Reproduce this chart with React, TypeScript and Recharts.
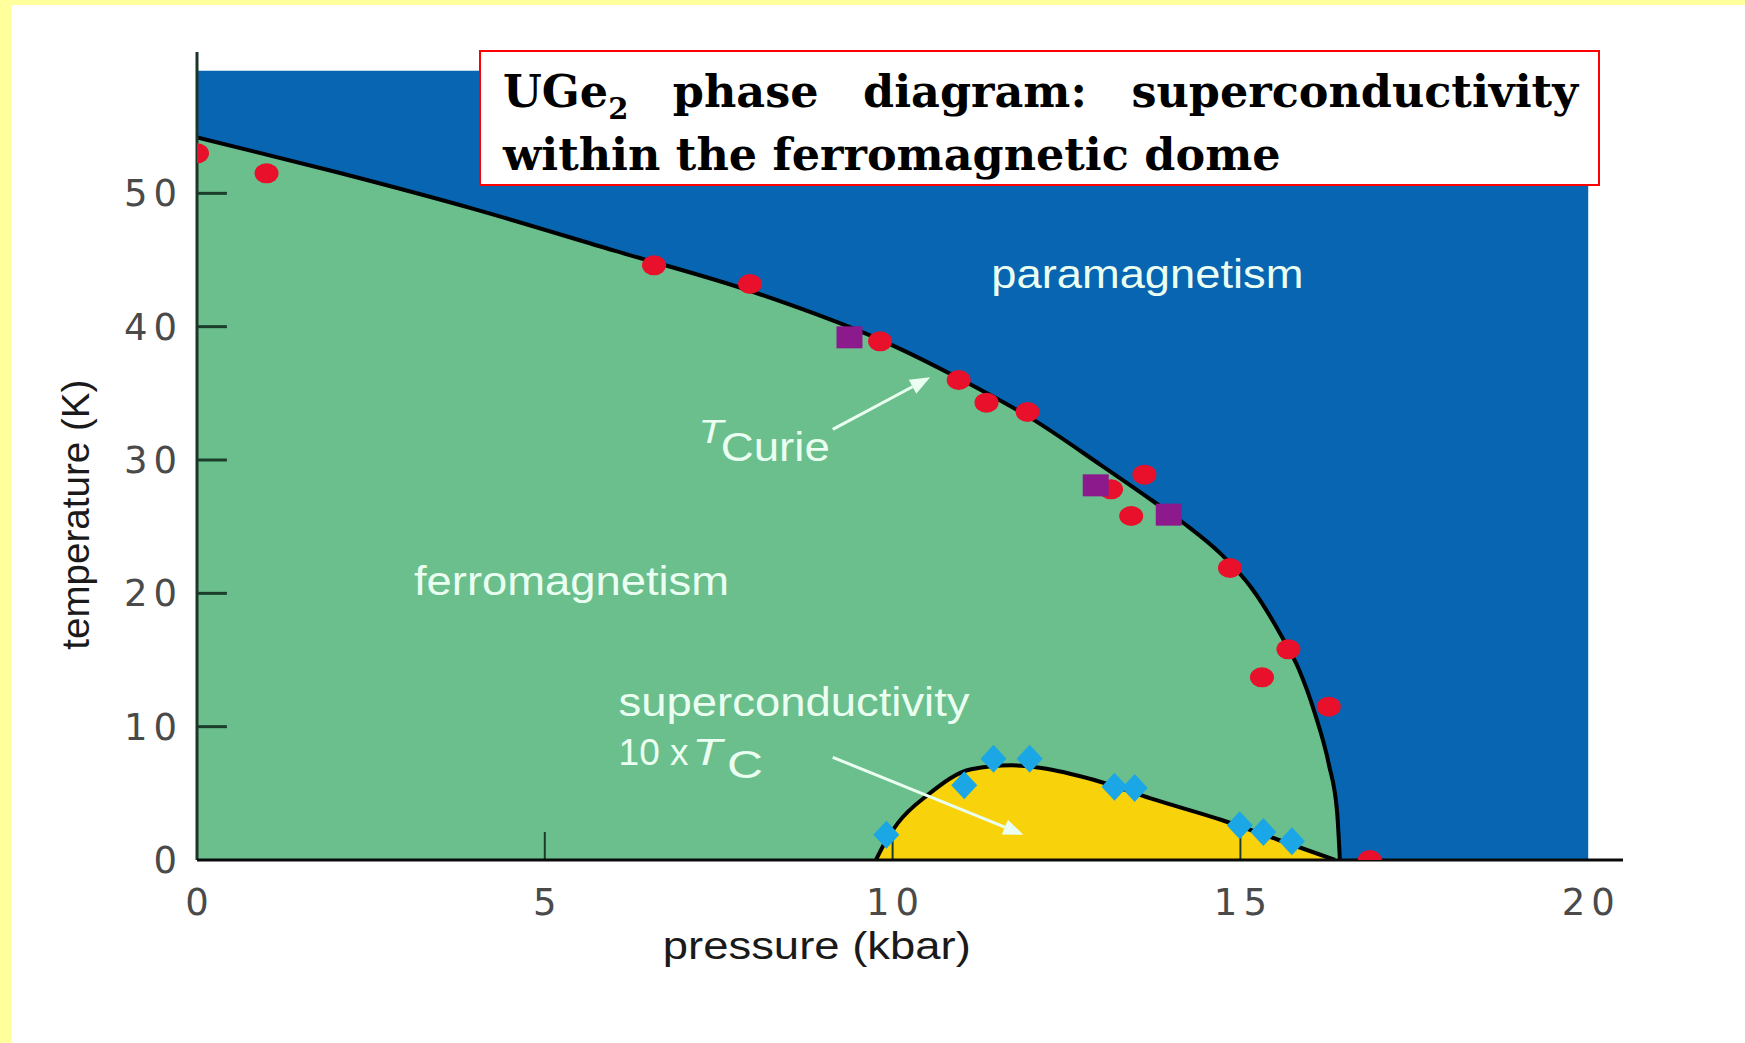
import React from "react";
import {
  ComposedChart,
  Area,
  Scatter,
  XAxis,
  YAxis,
  ReferenceLine,
  ReferenceDot,
} from "recharts";

// Curie line (ferromagnetic boundary), pressure in kbar, temperature in K
const curieP = [0, 2, 4, 6, 8, 10, 11, 12, 13, 13.72, 14.2, 14.73, 15.16, 15.59, 15.84, 16.07, 16.27, 16.39, 16.43];
const curieT = [54.2, 51.6, 48.8, 45.7, 42.6, 38.6, 36.0, 33.1, 29.6, 27.0, 25.2, 22.9, 20.4, 16.8, 14.3, 11.0, 7.2, 3.6, 0];

// superconducting dome (10 x Tc)
const domeP = [9.76, 9.9, 10.08, 10.51, 11.13, 11.71, 12.14, 12.9, 13.72, 14.73, 15.55, 16.36];
const domeT = [0, 1.4, 2.8, 4.9, 6.8, 7.1, 6.9, 6.0, 4.6, 3.0, 1.5, 0];

// measured points
const redP = [0, 1.0, 6.57, 7.95, 9.82, 10.95, 11.35, 11.94, 13.14, 13.43, 13.62, 14.85, 15.69, 15.31, 16.27, 16.86];
const redT = [53.0, 51.5, 44.6, 43.2, 38.9, 36.0, 34.3, 33.6, 27.8, 25.8, 28.9, 21.9, 15.8, 13.7, 11.5, 0];
const squareP = [9.38, 12.92, 13.97];
const squareT = [39.2, 28.1, 25.9];
const diamondP = [9.91, 11.03, 11.45, 11.97, 13.19, 13.48, 14.99, 15.33, 15.74];
const diamondT = [1.9, 5.6, 7.6, 7.6, 5.5, 5.4, 2.6, 2.1, 1.4];

// paramagnetic region extent
const paraP = [0, 20];
const paraTop = 59.2;

const xTicks = [0, 5, 10, 15, 20];
const yTicks = [0, 10, 20, 30, 40, 50];

const zip = (ps: number[], ts: number[]) => ps.map((p, i) => ({ p, T: ts[i] }));

const curieData = zip(curieP, curieT);
const domeData = zip(domeP, domeT);
const redData = zip(redP, redT);
const squareData = zip(squareP, squareT);
const diamondData = zip(diamondP, diamondT);
const paraData = paraP.map((p) => ({ p, T: paraTop }));

const BLUE = "#0765b1";
const GREEN = "#6abf8c";
const YELLOW = "#f8d20b";
const TXT = "#eafff1";
const SANS = "Liberation Sans, Arial, sans-serif";

const RedDot = (props: any) => (
  <ellipse cx={props.cx} cy={props.cy} rx={12} ry={10} fill="#e8102b" />
);
const PurpleSquare = (props: any) => (
  <rect x={props.cx - 13} y={props.cy - 11} width={26} height={22} fill="#8c1a8c" />
);
const BlueDiamond = (props: any) => (
  <polygon
    points={`${props.cx},${props.cy - 14} ${props.cx + 13},${props.cy} ${props.cx},${props.cy + 14} ${props.cx - 13},${props.cy}`}
    fill="#1ba6e6"
  />
);

const arrowShape = (props: any) => {
  const { x1, y1, x2, y2 } = props;
  const a = Math.atan2(y2 - y1, x2 - x1);
  const L = 20;
  const W = 8;
  const bx = x2 - L * Math.cos(a);
  const by = y2 - L * Math.sin(a);
  const px = -Math.sin(a) * W;
  const py = Math.cos(a) * W;
  return (
    <g>
      <line x1={x1} y1={y1} x2={bx} y2={by} stroke={TXT} strokeWidth={3} />
      <polygon points={`${x2},${y2} ${bx + px},${by + py} ${bx - px},${by - py}`} fill={TXT} />
    </g>
  );
};

const textAt = (content: React.ReactNode, len: number, size: number, extra: any = {}) =>
  (props: any) => (
    <text
      x={props.cx}
      y={props.cy}
      fill={TXT}
      fontFamily={SANS}
      fontSize={size}
      textLength={len}
      lengthAdjust="spacingAndGlyphs"
      {...extra}
    >
      {content}
    </text>
  );

const XTick = (props: any) => (
  <text
    x={props.x + 3}
    y={props.y + 53}
    textAnchor="middle"
    fontFamily="DejaVu Sans, sans-serif"
    fontSize={37}
    letterSpacing={6}
    fill="#4a4a4a"
  >
    {props.payload.value}
  </text>
);

const YTick = (props: any) => (
  <text
    x={props.x - 12}
    y={props.y + 13}
    textAnchor="end"
    fontFamily="DejaVu Sans, sans-serif"
    fontSize={37}
    letterSpacing={6}
    fill="#4a4a4a"
  >
    {props.payload.value}
  </text>
);

export default function App() {
  return (
    <div style={{ position: "absolute", left: 0, top: 0, width: 1745, height: 1043, background: "#fff", overflow: "hidden" }}>
      <ComposedChart
        width={1745}
        height={1043}
        margin={{ top: 52, right: 122, bottom: 123, left: 137 }}
      >
        <XAxis
          type="number"
          dataKey="p"
          domain={[0, 20.5]}
          ticks={xTicks}
          height={60}
          axisLine={false}
          tickLine={false}
          tickSize={0}
          tick={<XTick />}
          allowDataOverflow
        />
        <YAxis
          type="number"
          dataKey="T"
          domain={[0, 60.6]}
          ticks={yTicks}
          width={60}
          axisLine={false}
          tickLine={false}
          tickSize={0}
          tick={<YTick />}
          allowDataOverflow
        />
        <Area data={paraData} dataKey="T" type="linear" fill={BLUE} fillOpacity={1} stroke="none" isAnimationActive={false} />
        <Area data={curieData} dataKey="T" type="monotone" fill={GREEN} fillOpacity={1} stroke="#000" strokeWidth={4} isAnimationActive={false} />
        <Area data={domeData} dataKey="T" type="monotone" fill={YELLOW} fillOpacity={1} stroke="#000" strokeWidth={4} isAnimationActive={false} />

        {yTicks.filter((t) => t > 0).map((t) => (
          <ReferenceLine key={"yt" + t} segment={[{ x: 0, y: t }, { x: 0.43, y: t }]} stroke="#1d3d2b" strokeWidth={3} />
        ))}
        {xTicks.filter((t) => t > 0 && t < 20).map((t) => (
          <ReferenceLine key={"xt" + t} segment={[{ x: t, y: 0 }, { x: t, y: 2.1 }]} stroke="#1d3d2b" strokeWidth={2} />
        ))}
        <ReferenceLine segment={[{ x: 0, y: 0 }, { x: 0, y: 60.6 }]} stroke="#1d3528" strokeWidth={3} ifOverflow="visible" />
        <ReferenceLine segment={[{ x: 0, y: 0 }, { x: 20.5, y: 0 }]} stroke="#0a0a0a" strokeWidth={3} ifOverflow="visible" />

        <ReferenceLine segment={[{ x: 9.14, y: 32.3 }, { x: 10.54, y: 36.2 }]} shape={arrowShape} />
        <ReferenceLine segment={[{ x: 9.14, y: 7.7 }, { x: 11.88, y: 1.9 }]} shape={arrowShape} />

        <ReferenceDot x={11.42} y={42.9} r={0} shape={textAt("paramagnetism", 312, 40)} />
        <ReferenceDot x={3.12} y={19.9} r={0} shape={textAt("ferromagnetism", 315, 40)} />
        <ReferenceDot x={6.06} y={10.8} r={0} shape={textAt("superconductivity", 351, 40)} />
        <ReferenceDot x={6.06} y={7.13} r={0} shape={textAt("10 x", 70, 37)} />
        <ReferenceDot x={7.12} y={7.13} r={0} shape={textAt("T", 30, 37, { fontStyle: "italic" })} />
        <ReferenceDot x={7.62} y={6.16} r={0} shape={textAt("C", 36, 39)} />
        <ReferenceDot x={7.21} y={31.3} r={0} shape={textAt("T", 25, 34, { fontStyle: "italic" })} />
        <ReferenceDot x={7.53} y={29.9} r={0} shape={textAt("Curie", 109, 40)} />

        <ReferenceDot
          x={8.91}
          y={-7.4}
          r={0}
          ifOverflow="visible"
          shape={textAt("pressure (kbar)", 308, 38, { fill: "#1a1a1a", textAnchor: "middle" })}
        />
        <ReferenceDot
          x={-1.55}
          y={25.9}
          r={0}
          ifOverflow="visible"
          shape={(props: any) => (
            <text
              x={props.cx}
              y={props.cy}
              transform={`rotate(-90 ${props.cx} ${props.cy})`}
              textAnchor="middle"
              fill="#1a1a1a"
              fontFamily={SANS}
              fontSize={38}
              textLength={270}
              lengthAdjust="spacingAndGlyphs"
            >
              temperature (K)
            </text>
          )}
        />

        <Scatter data={redData} dataKey="T" shape={<RedDot />} isAnimationActive={false} />
        <Scatter data={squareData} dataKey="T" shape={<PurpleSquare />} isAnimationActive={false} />
        <Scatter data={diamondData} dataKey="T" shape={<BlueDiamond />} isAnimationActive={false} />
      </ComposedChart>

      <div style={{ position: "absolute", left: 0, top: 0, width: 1745, height: 5, background: "#ffff9c" }} />
      <div style={{ position: "absolute", left: 0, top: 0, width: 11, height: 1043, background: "#ffff9c" }} />

      <div
        style={{
          position: "absolute",
          left: 479,
          top: 50,
          width: 1121,
          height: 136,
          boxSizing: "border-box",
          border: "2px solid #ff0000",
          background: "#fff",
          padding: "11px 20px 0 22px",
          fontFamily: "DejaVu Serif, serif",
          fontWeight: 700,
          fontSize: 44.5,
          lineHeight: "57px",
          color: "#000",
        }}
      >
        <div style={{ whiteSpace: "nowrap", display: "flex", justifyContent: "space-between" }}>
          <span>
            UGe<span style={{ fontSize: 29, position: "relative", top: 12 }}>2</span>
          </span>
          <span>phase</span>
          <span>diagram:</span>
          <span>superconductivity</span>
        </div>
        <div style={{ whiteSpace: "nowrap" }}>within the ferromagnetic dome</div>
      </div>
    </div>
  );
}
